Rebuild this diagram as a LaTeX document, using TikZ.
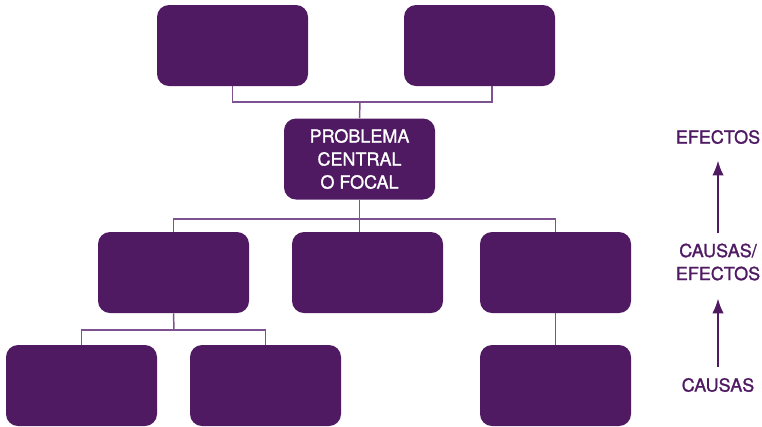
\documentclass[tikz,border=0pt]{standalone}
\usepackage{fontspec}
\setmainfont{TeX Gyre Heros}
\newfontfamily\medio[FakeBold=1.3]{TeX Gyre Heros}
\usetikzlibrary{arrows.meta}
\definecolor{morado}{HTML}{4F1A62}
\definecolor{lila}{HTML}{7D5290}

\begin{document}
\begin{tikzpicture}[x=.75pt,y=-.75pt,
    caja/.style={fill=morado,rounded corners=9pt,minimum width=113.25pt,
      minimum height=60.75pt,inner sep=0pt,text=white,align=center,
      font=\medio\fontsize{13.5}{17.25}\selectfont},
    rama/.style={draw=lila,line width=1.1pt},
    etiqueta/.style={text=morado,align=center,inner sep=0pt,
      font=\medio\fontsize{13.5}{17.25}\selectfont},
    flecha/.style={draw=morado,line width=1.1pt,-{Latex[length=11pt,width=8.5pt]}}]
                    \useasboundingbox (0,0) rectangle (762,426);
                    % efectos
                    \node[caja](e1)at(232.5,45.5){};
                    \node[caja](e2)at(479.5,45.5){};
                    \node[caja](pc)at(359.5,159){PROBLEMA\\CENTRAL\\O FOCAL};
                    % causas/efectos
                    \node[caja](c1)at(173.5,272.5){};
                    \node[caja](c2)at(367.5,272.5){};
                    \node[caja](c3)at(555.5,272.5){};
                    % causas
                    \node[caja](r1)at(81.5,385.5){};
                    \node[caja](r2)at(265.5,385.5){};
                    \node[caja](r3)at(555.5,385.5){};
                    \coordinate(j1)at(360,102);
                    \coordinate(j2)at(360,219);
                    \coordinate(j3)at(174,330);
                    \draw[rama](e1.south)|-(j1)-|([xshift=9.4pt]e2.south);
                    \draw[rama](j1)--(pc.north);
                    \draw[rama](pc.south)--(c2.north-|pc.south);
                    \draw[rama](c1.north)|-(j2)-|(c3.north);
                    \draw[rama](c1.south)--(j3);
                    \draw[rama](r1.north)|-(j3)-|(r2.north);
                    \draw[rama](c3.south)--(r3.north);
                    % niveles
                    \node[etiqueta](ef)at(718,137){EFECTOS};
                    \node[etiqueta](ce)at(718,262){CAUSAS/\\EFECTOS};
                    \node[etiqueta](ca)at(718,385){CAUSAS};
                    \draw[flecha,shorten <=7.5pt,shorten >=12.4pt](ce)--(ef);
                    \draw[flecha,shorten <=8pt,shorten >=13.5pt](ca)--(ce);
                \end{tikzpicture}
\end{document}
